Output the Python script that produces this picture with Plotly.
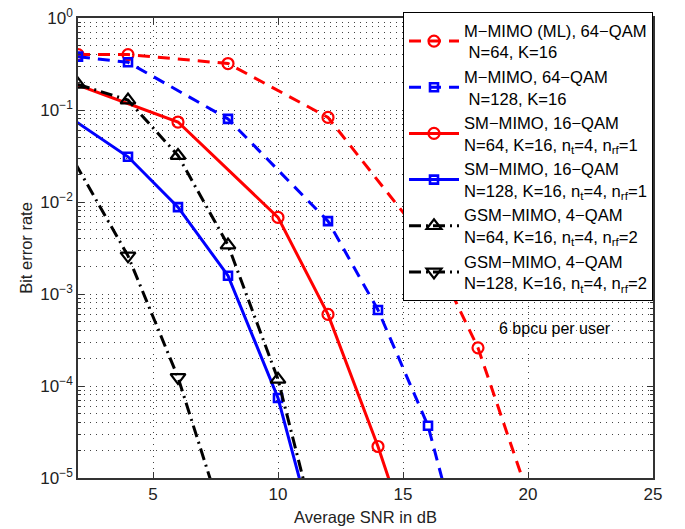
import plotly.graph_objects as go

# ---------------- data ----------------
snr_mm_ml = [2, 4, 8, 12, 16, 18, 20]
ber_mm_ml = [0.40, 0.40, 0.32, 0.083, 3.5e-3, 2.6e-4, 6.6e-6]

snr_mm_128 = [2, 4, 8, 12, 14, 16, 18]
ber_mm_128 = [0.38, 0.33, 0.080, 6.2e-3, 6.7e-4, 3.7e-5, 3.3e-7]

snr_sm_64 = [0, 6, 10, 12, 14, 16]
ber_sm_64 = [0.296, 0.074, 6.8e-3, 6.0e-4, 2.2e-5, 5.2e-7]

snr_sm_128 = [0, 4, 6, 8, 10, 12]
ber_sm_128 = [0.168, 0.031, 8.8e-3, 1.58e-3, 7.4e-5, 6.7e-7]

snr_gsm_64 = [2, 4, 6, 8, 10, 12]
ber_gsm_64 = [0.19, 0.128, 0.032, 3.4e-3, 1.18e-4, 8.5e-7]

snr_gsm_128 = [0, 4, 6, 8]
ber_gsm_128 = [0.21, 2.6e-3, 1.24e-4, 2.4e-6]

names = [
    "M\u2212MIMO (ML), 64\u2212QAM<br>\u00a0N=64, K=16",
    "M\u2212MIMO, 64\u2212QAM<br>\u00a0N=128, K=16",
    "SM\u2212MIMO, 16\u2212QAM<br>N=64, K=16, n<sub>t</sub>=4, n<sub>rf</sub>=1",
    "SM\u2212MIMO, 16\u2212QAM<br>N=128, K=16, n<sub>t</sub>=4, n<sub>rf</sub>=1",
    "GSM\u2212MIMO, 4\u2212QAM<br>N=64, K=16, n<sub>t</sub>=4, n<sub>rf</sub>=2",
    "GSM\u2212MIMO, 4\u2212QAM<br>N=128, K=16, n<sub>t</sub>=4, n<sub>rf</sub>=2",
]

x_ticks = [5, 10, 15, 20, 25]
y_ticks = [1e-5, 1e-4, 1e-3, 1e-2, 1e-1, 1]
y_ticktext = ["10<sup>\u22125</sup>", "10<sup>\u22124</sup>", "10<sup>\u22123</sup>",
              "10<sup>\u22122</sup>", "10<sup>\u22121</sup>", "10<sup>0</sup>"]

RED = "#ff0000"
BLUE = "#0000ff"
BLACK = "#000000"
DASH = "12px,8px"
DASHDOT = "12px,5px,2px,5px"

series = [
    (snr_mm_ml, ber_mm_ml, RED, DASH, "circle-open", 11, 2.2),
    (snr_mm_128, ber_mm_128, BLUE, DASH, "square-open", 8, 2.6),
    (snr_sm_64, ber_sm_64, RED, "solid", "circle-open", 11, 2.2),
    (snr_sm_128, ber_sm_128, BLUE, "solid", "square-open", 8, 2.6),
    (snr_gsm_64, ber_gsm_64, BLACK, DASHDOT, "triangle-up-open", 13, 2.2),
    (snr_gsm_128, ber_gsm_128, BLACK, DASHDOT, "triangle-down-open", 13, 2.2),
]

fig = go.Figure()
for i, (x, y, col, dash, sym, msize, mlw) in enumerate(series):
    fig.add_trace(go.Scatter(
        x=x, y=y, mode="lines+markers", name=names[i],
        legendgroup=f"g{i}",
        line=dict(color=col, width=3, dash=dash),
        marker=dict(symbol=sym, size=msize, color=col, line=dict(color=col, width=mlw)),
        cliponaxis=True,
    ))

fig.add_annotation(x=18.76, y=-3.37, xref="x", yref="y", text="6 bpcu per user",
                   showarrow=False, xanchor="left", yanchor="middle",
                   font=dict(size=16, color="#000"))

minor_y = [m * 10 ** e for e in range(-5, 0) for m in range(2, 10)]

GRID = "#444444"
axis_common = dict(
    showline=True, linecolor="#333333", linewidth=1.5, mirror="ticks",
    ticks="inside", ticklen=6, tickcolor="#333333",
    showgrid=True, gridcolor=GRID, gridwidth=1, griddash="1px,5px",
    zeroline=False, tickfont=dict(size=17, color="#222"), automargin=False,
)

fig.update_xaxes(range=[2, 25], tickmode="array", tickvals=x_ticks,
                 title=dict(text="Average SNR in dB", font=dict(size=16.5, color="#222"), standoff=8),
                 **axis_common)
fig.update_yaxes(type="log", range=[-5, 0], tickmode="array", tickvals=y_ticks,
                 ticktext=y_ticktext,
                 title=dict(text="Bit error rate", font=dict(size=16.5, color="#222"), standoff=4),
                 minor=dict(tickmode="array", tickvals=minor_y, ticks="inside", ticklen=3,
                            tickcolor="#333333", showgrid=True, gridcolor=GRID,
                            griddash="1px,5px", gridwidth=1),
                 **axis_common)

fig.update_layout(
    width=685, height=529,
    margin=dict(l=78, r=32, t=14, b=51),
    paper_bgcolor="white", plot_bgcolor="white",
    font=dict(family="Liberation Sans, Arial, sans-serif", size=16, color="#000"),
    legend=dict(x=1, y=1.013, xanchor="right", yanchor="top",
                bgcolor="white", bordercolor="#000", borderwidth=1,
                font=dict(size=16.6, color="#000"), itemwidth=50,
                traceorder="grouped", tracegroupgap=0, maxheight=450),
    showlegend=True,
)

fig.write_html("out.html")
